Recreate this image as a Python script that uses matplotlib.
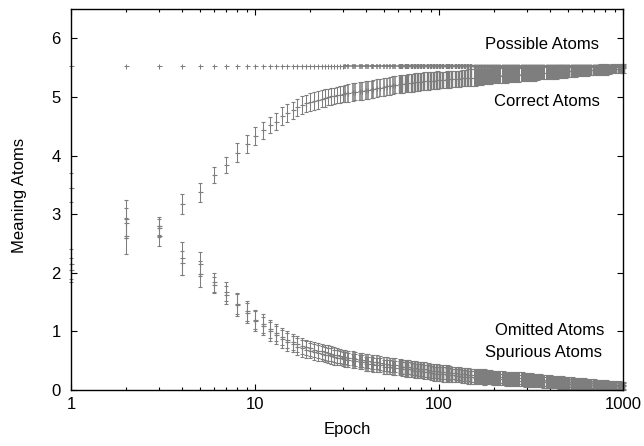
import matplotlib
matplotlib.use('Agg')
import matplotlib.pyplot as plt
import numpy as np
from matplotlib.ticker import LogLocator, NullFormatter

plt.rcParams['font.family'] = ['Liberation Sans', 'DejaVu Sans']

# ---- data ----
epochs = [1, 2, 3, 4, 5, 6, 7, 8, 9, 10, 11, 12, 13, 14, 15, 16, 17, 18, 19, 20,
          21, 22, 23, 24, 25, 26, 27, 28, 29, 30,
          31, 32, 34, 35, 37, 38, 40, 41, 43, 44,
          46, 48, 50, 52, 54, 56, 58, 61, 63, 66,
          68, 71, 74, 77, 80, 83, 87, 90, 94, 97,
          101, 105, 110, 114, 118, 123, 128, 133, 139, 144,
          150, 156, 162, 169, 175, 182, 190, 197, 205, 213,
          222, 231, 240, 250, 259, 270, 281, 292, 304, 316,
          328, 341, 355, 369, 384, 399, 415, 432, 449, 467,
          486, 505, 526, 547, 569, 591, 615, 640, 665, 692,
          719, 748, 778, 809, 842, 875, 910, 947, 984, 1000]

possible_atoms = 5.52

correct = [3.45, 2.63, 2.63, 3.17, 3.37, 3.67, 3.84, 4.05, 4.20, 4.33,
           4.43, 4.52, 4.58, 4.67, 4.73, 4.77, 4.82, 4.86, 4.89, 4.91,
           4.93, 4.95, 4.97, 4.98, 5.00, 5.01, 5.02, 5.03, 5.04, 5.05,
           5.06, 5.07, 5.08, 5.09, 5.10, 5.10, 5.12, 5.12, 5.13, 5.14,
           5.15, 5.16, 5.17, 5.18, 5.19, 5.20, 5.21, 5.22, 5.22, 5.23,
           5.24, 5.24, 5.25, 5.25, 5.26, 5.27, 5.27, 5.28, 5.28, 5.29,
           5.29, 5.29, 5.30, 5.30, 5.31, 5.31, 5.31, 5.32, 5.32, 5.33,
           5.33, 5.33, 5.34, 5.34, 5.35, 5.35, 5.35, 5.36, 5.36, 5.36,
           5.37, 5.37, 5.37, 5.38, 5.38, 5.38, 5.39, 5.39, 5.39, 5.40,
           5.40, 5.40, 5.41, 5.41, 5.41, 5.42, 5.42, 5.42, 5.43, 5.43,
           5.43, 5.44, 5.44, 5.44, 5.45, 5.45, 5.45, 5.45, 5.46, 5.46,
           5.46, 5.47, 5.47, 5.47, 5.47, 5.48, 5.48, 5.48, 5.49, 5.49]
correct_err = [0.25, 0.31, 0.17, 0.17, 0.17, 0.14, 0.14, 0.16, 0.15, 0.15,
               0.15, 0.14, 0.15, 0.15, 0.15, 0.15, 0.15, 0.15, 0.15, 0.15,
               0.15, 0.15, 0.14, 0.15, 0.14, 0.14, 0.14, 0.14, 0.14, 0.14,
               0.15, 0.15, 0.15, 0.15, 0.15, 0.15, 0.15, 0.15, 0.15, 0.15,
               0.15, 0.15, 0.15, 0.15, 0.15, 0.15, 0.15, 0.15, 0.15, 0.15,
               0.15, 0.15, 0.15, 0.15, 0.15, 0.15, 0.15, 0.15, 0.15, 0.15,
               0.14, 0.14, 0.14, 0.14, 0.14, 0.14, 0.14, 0.14, 0.14, 0.14,
               0.14, 0.14, 0.14, 0.13, 0.13, 0.13, 0.13, 0.13, 0.13, 0.13,
               0.13, 0.13, 0.12, 0.12, 0.12, 0.12, 0.12, 0.12, 0.12, 0.12,
               0.12, 0.11, 0.11, 0.11, 0.11, 0.11, 0.11, 0.11, 0.11, 0.11,
               0.10, 0.10, 0.10, 0.10, 0.10, 0.10, 0.10, 0.09, 0.09, 0.09,
               0.09, 0.09, 0.09, 0.09, 0.08, 0.08, 0.08, 0.08, 0.08, 0.08]

omitted = [2.05, 2.92, 2.80, 2.25, 2.15, 1.84, 1.68, 1.47, 1.32, 1.18,
           1.09, 1.00, 0.94, 0.87, 0.82, 0.78, 0.74, 0.71, 0.69, 0.67,
           0.65, 0.63, 0.62, 0.60, 0.59, 0.58, 0.56, 0.55, 0.54, 0.53,
           0.52, 0.51, 0.50, 0.49, 0.47, 0.47, 0.45, 0.45, 0.44, 0.43,
           0.43, 0.42, 0.40, 0.40, 0.39, 0.38, 0.38, 0.37, 0.36, 0.35,
           0.35, 0.34, 0.33, 0.32, 0.32, 0.31, 0.30, 0.29, 0.28, 0.28,
           0.27, 0.265, 0.26, 0.255, 0.25, 0.245, 0.24, 0.23, 0.225, 0.22,
           0.215, 0.21, 0.21, 0.205, 0.20, 0.20, 0.195, 0.19, 0.185, 0.18,
           0.18, 0.175, 0.17, 0.17, 0.165, 0.16, 0.16, 0.155, 0.15, 0.145,
           0.145, 0.145, 0.14, 0.135, 0.13, 0.13, 0.125, 0.12, 0.115, 0.115,
           0.11, 0.105, 0.103, 0.10, 0.097, 0.095, 0.092, 0.09, 0.087, 0.085,
           0.088, 0.085, 0.082, 0.079, 0.076, 0.073, 0.07, 0.067, 0.063, 0.06]
omitted_err = [0.20, 0.32, 0.15, 0.28, 0.20, 0.16, 0.17, 0.18, 0.17, 0.17,
               0.16, 0.16, 0.15, 0.15, 0.15, 0.14, 0.14, 0.14, 0.14, 0.13,
               0.13, 0.13, 0.13, 0.13, 0.13, 0.13, 0.13, 0.13, 0.12, 0.12,
               0.12, 0.12, 0.12, 0.12, 0.12, 0.12, 0.12, 0.12, 0.12, 0.12,
               0.12, 0.12, 0.12, 0.12, 0.12, 0.12, 0.12, 0.12, 0.12, 0.12,
               0.12, 0.12, 0.12, 0.12, 0.12, 0.12, 0.12, 0.12, 0.12, 0.12,
               0.12, 0.12, 0.12, 0.12, 0.11, 0.11, 0.11, 0.11, 0.11, 0.11,
               0.11, 0.11, 0.11, 0.11, 0.11, 0.10, 0.10, 0.10, 0.10, 0.10,
               0.10, 0.10, 0.10, 0.10, 0.10, 0.10, 0.10, 0.10, 0.10, 0.10,
               0.095, 0.095, 0.095, 0.095, 0.09, 0.09, 0.09, 0.09, 0.09, 0.09,
               0.085, 0.085, 0.085, 0.08, 0.08, 0.08, 0.08, 0.075, 0.075, 0.075,
               0.07, 0.07, 0.07, 0.07, 0.065, 0.065, 0.065, 0.06, 0.06, 0.06]

spurious = [2.15, 2.85, 2.76, 2.17, 1.98, 1.79, 1.62, 1.45, 1.34, 1.20,
            1.13, 1.04, 0.98, 0.91, 0.86, 0.82, 0.78, 0.75, 0.73, 0.71,
            0.69, 0.67, 0.66, 0.64, 0.63, 0.62, 0.60, 0.59, 0.58, 0.57,
            0.56, 0.55, 0.54, 0.53, 0.51, 0.51, 0.49, 0.49, 0.48, 0.47,
            0.47, 0.46, 0.44, 0.44, 0.43, 0.42, 0.42, 0.41, 0.40, 0.39,
            0.39, 0.38, 0.37, 0.36, 0.36, 0.35, 0.34, 0.33, 0.32, 0.32,
            0.31, 0.305, 0.30, 0.295, 0.29, 0.285, 0.28, 0.27, 0.265, 0.26,
            0.255, 0.25, 0.25, 0.245, 0.24, 0.24, 0.235, 0.23, 0.225, 0.22,
            0.22, 0.215, 0.21, 0.21, 0.205, 0.20, 0.20, 0.195, 0.19, 0.185,
            0.175, 0.175, 0.17, 0.165, 0.16, 0.16, 0.155, 0.15, 0.145, 0.145,
            0.14, 0.135, 0.133, 0.13, 0.127, 0.125, 0.122, 0.12, 0.117, 0.115,
            0.108, 0.105, 0.102, 0.099, 0.096, 0.093, 0.09, 0.087, 0.083, 0.08]
spurious_err = [0.25, 0.25, 0.15, 0.20, 0.22, 0.14, 0.15, 0.18, 0.17, 0.16,
                0.16, 0.15, 0.15, 0.15, 0.14, 0.14, 0.14, 0.14, 0.13, 0.13,
                0.13, 0.13, 0.13, 0.13, 0.13, 0.13, 0.13, 0.13, 0.12, 0.12,
                0.12, 0.12, 0.12, 0.12, 0.12, 0.12, 0.12, 0.12, 0.12, 0.12,
                0.12, 0.12, 0.12, 0.12, 0.12, 0.12, 0.12, 0.12, 0.12, 0.12,
                0.12, 0.12, 0.12, 0.12, 0.12, 0.12, 0.12, 0.12, 0.12, 0.12,
                0.12, 0.12, 0.12, 0.12, 0.11, 0.11, 0.11, 0.11, 0.11, 0.11,
                0.11, 0.11, 0.11, 0.11, 0.11, 0.10, 0.10, 0.10, 0.10, 0.10,
                0.10, 0.10, 0.10, 0.10, 0.10, 0.10, 0.10, 0.10, 0.10, 0.10,
                0.095, 0.095, 0.095, 0.095, 0.09, 0.09, 0.09, 0.09, 0.09, 0.09,
                0.085, 0.085, 0.085, 0.08, 0.08, 0.08, 0.08, 0.075, 0.075, 0.075,
                0.07, 0.07, 0.07, 0.07, 0.065, 0.065, 0.065, 0.06, 0.06, 0.06]

labels = ["Possible Atoms", "Correct Atoms", "Omitted Atoms", "Spurious Atoms"]
xtick_vals = [1, 10, 100, 1000]
xtick_labels = ["1", "10", "100", "1000"]
ytick_vals = [0, 1, 2, 3, 4, 5, 6]

# ---- figure ----
GREY = '#7e7e7e'
fig = plt.figure(figsize=(6.44, 4.46), dpi=100)
ax = fig.add_axes([71/644, 56/446, 552/644, 381/446])

ep = np.array(epochs)
# (lower, upper, line width, cap size): heavier strokes where the original's
# one-bar-per-epoch marks merge into a solid band
bands = [(0, 30, 0.75, 1.4), (30, 60, 1.1, 1.7), (60, 150, 1.7, 1.8),
         (150, 400, 2.2, 1.8), (400, 1001, 2.5, 1.8)]

for lo, hi, lw, cs in bands:
    mask = (ep > lo) & (ep <= hi)
    ax.plot(ep[mask], np.full(mask.sum(), possible_atoms), linestyle='none', marker='+',
            color=GREY, ms=3.6, mew=min(lw, 2.0), clip_on=False, zorder=3)
    for vals, errs in [(correct, correct_err), (omitted, omitted_err), (spurious, spurious_err)]:
        v = np.array(vals)[mask]
        e = np.array(errs)[mask]
        ax.errorbar(ep[mask], v, yerr=e, fmt='+', color=GREY, ecolor=GREY,
                    ms=3.6, mew=0.8, elinewidth=lw, capsize=cs,
                    capthick=min(lw, 1.0), clip_on=False, zorder=3)

ax.set_xscale('log')
ax.set_xlim(1, 1000)
ax.set_ylim(0, 6.5)
ax.set_xticks(xtick_vals)
ax.set_xticklabels(xtick_labels)
ax.xaxis.set_minor_locator(LogLocator(base=10, subs=np.arange(2, 10)))
ax.xaxis.set_minor_formatter(NullFormatter())
ax.set_yticks(ytick_vals)

ax.tick_params(which='major', direction='in', top=True, right=True,
               length=4.3, width=0.8, labelsize=12, colors='black')
ax.tick_params(which='minor', direction='in', top=True, right=True,
               length=2.2, width=0.8)
ax.tick_params(axis='x', which='major', pad=5)
ax.tick_params(axis='y', which='major', pad=7.5)
for s in ax.spines.values():
    s.set_linewidth(1.0)
    s.set_zorder(4)

ax.set_xlabel("Epoch", fontsize=12)
ax.set_ylabel("Meaning Atoms", fontsize=12)
ax.xaxis.set_label_coords(0.5, -0.084)
ax.yaxis.set_label_coords(-0.08, 0.51)

text_pos = [(0.9565, 0.894), (0.958, 0.745), (0.9656, 0.144), (0.962, 0.0858)]
for lab, (tx, ty) in zip(labels, text_pos):
    ax.text(tx, ty, lab, transform=ax.transAxes, ha='right', va='baseline',
            fontsize=12, color='black')

fig.savefig('out.png', dpi=100)
